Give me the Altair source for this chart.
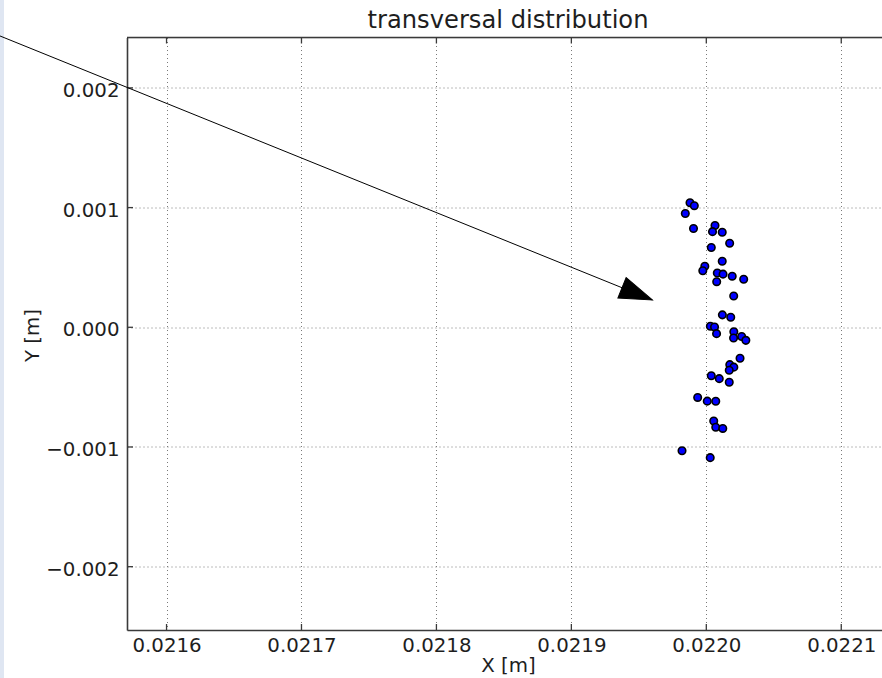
import altair as alt
import pandas as pd

# Particle positions at the observation plane (metres)
x_m = [
    0.02198792, 0.02199111, 0.02198444, 0.02199051, 0.02200645, 0.0220046,
    0.0220118, 0.0220173, 0.0220037, 0.0220118, 0.0219989, 0.0219974,
    0.02200815, 0.0220124, 0.0220192, 0.0220277, 0.0220077, 0.0220203,
    0.0220119, 0.0220181, 0.0220030, 0.0220061, 0.0220076, 0.0220204,
    0.0220262, 0.0220293, 0.0220202, 0.0220250, 0.0220174, 0.0220204,
    0.0220170, 0.0220037, 0.0220096, 0.0220170, 0.0219936, 0.0220007,
    0.0220070, 0.0220055, 0.0220070, 0.0220122, 0.0219820, 0.0220029,
]
y_m = [
    0.001041, 0.001016, 0.000951, 0.000825, 0.000850, 0.000799,
    0.000794, 0.000702, 0.000667, 0.000552, 0.000510, 0.000472,
    0.000454, 0.000444, 0.000427, 0.000401, 0.000381, 0.000261,
    0.000104, 0.000084, 0.000009, 0.000003, -0.000053, -0.000037,
    -0.000077, -0.000109, -0.000089, -0.000259, -0.000312, -0.000333,
    -0.000359, -0.000405, -0.000429, -0.000459, -0.000586, -0.000617,
    -0.000618, -0.000783, -0.000835, -0.000845, -0.001031, -0.001089,
]

x_ticks = [0.0216, 0.0217, 0.0218, 0.0219, 0.0220, 0.0221]
y_ticks = [-0.002, -0.001, 0.0, 0.001, 0.002]
x_range = [0.0215707, 0.0221302]
y_range = [-0.002529, 0.002421]

# annotation arrow: tail and head (data coordinates)
arrow_tail = [0.02145, 0.002555]
arrow_head = [0.02196, 0.000228]

W, H = 755, 592.5
FONT = "DejaVu Sans"
INK = "#1e1e1e"
SPINE = "#3a3a3a"

pts = pd.DataFrame({"x": x_m, "y": y_m})
xt = pd.DataFrame({"x": x_ticks})
yt = pd.DataFrame({"y": y_ticks})
arrow = pd.DataFrame({"x": [arrow_tail[0]], "y": [arrow_tail[1]],
                      "x2": [arrow_head[0]], "y2": [arrow_head[1]]})
tip = pd.DataFrame({"x": [arrow_head[0]], "y": [arrow_head[1]]})
one = pd.DataFrame({"k": [0]})

xs = alt.Scale(domain=x_range, nice=False, zero=False)
ys = alt.Scale(domain=y_range, nice=False, zero=False)

x_axis = alt.Axis(
    values=x_ticks, format=".4f", grid=True, gridDash=[1, 3], gridColor="#7a7a7a",
    gridWidth=1, ticks=False, labelPadding=21.7, labelBaseline="alphabetic",
    labelFont=FONT, labelFontSize=19.8, labelColor=INK, labelFlush=False,
    labelOverlap=False, domainColor=SPINE, domainWidth=1.6,
    title="X [m]", titleFont=FONT, titleFontSize=19.8, titleFontWeight="normal",
    titleColor=INK, titleX=381, titleY=41.7, titleAlign="center",
    titleBaseline="alphabetic",
)
y_axis = alt.Axis(
    values=y_ticks, format=".3f", grid=True, gridDash=[1, 3], gridColor="#7a7a7a",
    gridWidth=1, ticks=False, labelPadding=8, labelBaseline="alphabetic",
    labelOffset=8.7, labelFont=FONT, labelFontSize=19.8, labelColor=INK,
    labelFlush=False, labelOverlap=False, domainColor=SPINE, domainWidth=1.6,
    title="Y [m]", titleFont=FONT, titleFontSize=19.8, titleFontWeight="normal",
    titleColor=INK, titleX=-88.5, titleY=297.5, titleAngle=270,
    titleAlign="center", titleBaseline="alphabetic",
)

X = lambda f="x": alt.X(f"{f}:Q", scale=xs, axis=x_axis)
Y = lambda f="y": alt.Y(f"{f}:Q", scale=ys, axis=y_axis)

points = alt.Chart(pts).mark_point(
    shape="circle", filled=True, fill="#0000ff", stroke="black",
    strokeWidth=1.6, size=56, opacity=1,
).encode(x=X(), y=Y())

arrow_line = alt.Chart(arrow).mark_rule(color="black", strokeWidth=1).encode(
    x=X(), y=Y(), x2="x2:Q", y2="y2:Q"
)

arrow_tip = alt.Chart(tip).mark_point(
    shape="M0,0L-1,-0.337L-1,0.337Z", size=4277, angle=22, filled=True,
    fill="black", stroke="black", strokeWidth=1, opacity=1,
).encode(x=X(), y=Y())

# inward tick marks on bottom, top and left spines
tick_bottom = alt.Chart(xt).mark_rule(color=SPINE, strokeWidth=1.3).encode(
    x=X(), y=alt.value(H), y2=alt.value(H - 6)
)
tick_top = alt.Chart(xt).mark_rule(color=SPINE, strokeWidth=1.3).encode(
    x=X(), y=alt.value(0), y2=alt.value(6)
)
tick_left = alt.Chart(yt).mark_rule(color=SPINE, strokeWidth=1.3).encode(
    y=Y(), x=alt.value(0), x2=alt.value(6)
)

top_spine = alt.Chart(one).mark_rule(color=SPINE, strokeWidth=1.6).encode(
    x=alt.value(0), x2=alt.value(W), y=alt.value(0)
)

side_strip = alt.Chart(one).mark_rect(color="#dfe6f2").encode(
    x=alt.value(-127), x2=alt.value(-123), y=alt.value(-38), y2=alt.value(641)
)

title = alt.Chart(one).mark_text(
    text="transversal distribution", font=FONT, fontSize=24.2, color=INK,
    align="center", baseline="alphabetic",
).encode(x=alt.value(381), y=alt.value(-9.2))

chart = alt.layer(
    side_strip, points, tick_bottom, tick_top, tick_left, top_spine,
    arrow_line, arrow_tip, title,
).properties(
    width=W, height=H,
    autosize=alt.AutoSizeParams(type="none"),
    padding={"left": 127, "top": 37.5, "right": 0, "bottom": 48},
).configure_view(strokeWidth=0).configure(background="white")

chart.save("out.html", embed_options={"renderer": "svg", "actions": False})
